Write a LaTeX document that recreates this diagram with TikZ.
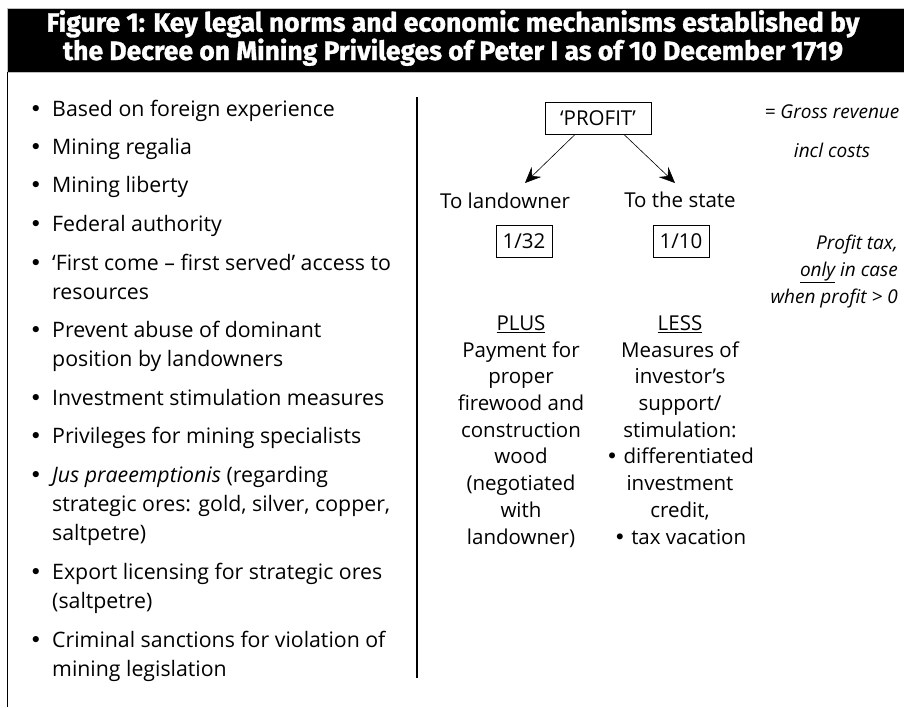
\documentclass[tikz,border=0pt]{standalone}
\usepackage{fontspec}
\setmainfont{Open Sans}
\newfontfamily\titlefont[BoldFeatures={FakeBold=1.2}]{Fira Sans}
\newfontfamily\bulfont{DejaVu Sans}
\usetikzlibrary{arrows.meta}

\newcommand{\leftfnt}{\fontsize{21.3}{29}\selectfont}
\newcommand{\rightfnt}{\fontsize{20.5}{26.7}\selectfont}
\newcommand{\bul}{{\bulfont •}}

\tikzset{
  bul/.style={anchor=base, inner sep=0pt, font=\leftfnt},
  item/.style={anchor=base west, align=left, inner sep=0pt, font=\leftfnt},
  colm/.style={anchor=base, align=center, inner sep=0pt, font=\rightfnt},
  note/.style={anchor=base, align=center, inner sep=0pt,
    font=\fontsize{19}{26.7}\selectfont\itshape},
  frac/.style={draw, line width=1pt, minimum width=56pt, minimum height=32pt,
    inner sep=0pt, font=\rightfnt},
  arr/.style={-{Stealth[length=16pt,width=14pt,inset=6pt]}, line width=0.6pt}
}

\begin{document}
\begin{tikzpicture}[x=1pt,y=-1pt]
  \useasboundingbox (0,0) rectangle (904,707);

  % header (multi-line nodes sit on the baseline of their last line)
  \fill[draw=gray!50] (7,8) rectangle (904,72);
  \node[text=white, anchor=base, align=center, inner sep=0pt,
    font=\titlefont\bfseries\fontsize{26.5}{27}\selectfont] (title) at (453,60)
    {Figure 1: Key legal norms and economic mechanisms established by\\
     the Decree on Mining Privileges of Peter I as of 10 December 1719};

  % frame and divider
  \draw[line width=1.4pt] (7.5,72) -- (7.5,707);
  \draw[line width=1.2pt] (417,97) -- (417,678);

  % left column: bullets
  \node[bul] (b1) at (36,116) {\bul}; \node[bul] (b2) at (36,154) {\bul};
  \node[bul] (b3) at (36,192) {\bul}; \node[bul] (b4) at (36,231) {\bul};
  \node[bul] (b5) at (36,270) {\bul}; \node[bul] (b6) at (36,337) {\bul};
  \node[bul] (b7) at (36,405) {\bul}; \node[bul] (b8) at (36,443) {\bul};
  \node[bul] (b9) at (36,482) {\bul}; \node[bul] (b10) at (36,579) {\bul};
  \node[bul] (b11) at (36,647) {\bul};

  % left column: items
  \node[item] (i1) at (52,116) {Based on foreign experience};
  \node[item] (i2) at (52,154) {Mining regalia};
  \node[item] (i3) at (52,192) {Mining liberty};
  \node[item] (i4) at (52,231) {Federal authority};
  \node[item] (i5) at (52,299) {‘First come – first served’ access to\\resources};
  \node[item] (i6) at (52,366) {Prevent abuse of dominant\\position by landowners};
  \node[item] (i7) at (52,405) {Investment stimulation measures};
  \node[item] (i8) at (52,443) {Privileges for mining specialists};
  \node[item] (i9) at (52,540) {\textit{Jus praeemptionis} (regarding\\
    strategic ores: gold, silver, copper,\\saltpetre)};
  \node[item] (i10) at (52,608) {Export licensing for strategic ores\\(saltpetre)};
  \node[item] (i11) at (52,676) {Criminal sanctions for violation of\\mining legislation};

  % right column
  \node[draw, line width=1pt, minimum width=106pt, minimum height=32pt,
    inner sep=0pt, font=\rightfnt] (profit) at (598,118) {‘PROFIT’};
  \node[note] (gross) at (832,157) {= Gross revenue\\[12pt]incl costs};
  \node[colm] (land) at (505,208) {To landowner};
  \node[colm] (state) at (680,207) {To the state};
  \node[frac] (f32) at (524,241) {1/32};
  \node[frac] (f10) at (681,241) {1/10};
  \node[note, align=right, anchor=base east] (tax) at (898,303)
    {Profit tax,\\\underline{only} in case\\when profit > 0};

  % arrows
  \coordinate (tl) at (525,183); \coordinate (ts) at (675,183);
  \draw[arr] ([xshift=-23pt]profit.south) -- (tl);
  \draw[arr] ([xshift=26pt]profit.south) -- (ts);

  % plus / less
  \node[colm] (plus) at (521,544) {\underline{PLUS}\\Payment for\\proper\\
    firewood and\\construction\\wood\\(negotiated\\with\\landowner)};
  \node[colm] (less) at (680,544) {\underline{LESS}\\Measures of\\investor’s\\
    support/\\stimulation:\\\bul{} differentiated\\investment\\credit,\\
    \bul{} tax vacation};
\end{tikzpicture}
\end{document}
